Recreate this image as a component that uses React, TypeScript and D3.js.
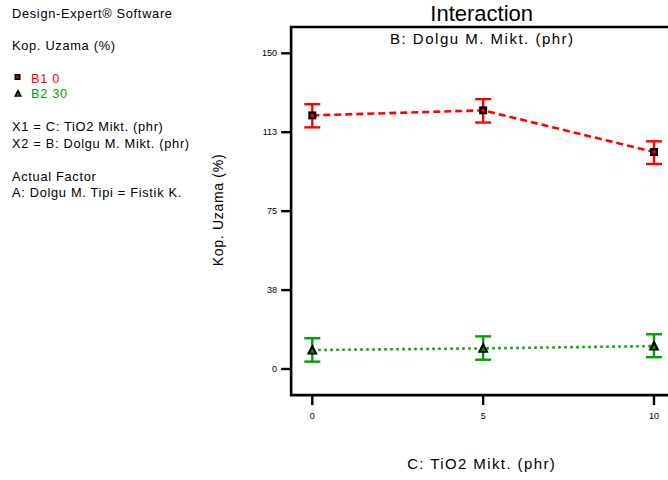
import React from "react";
import * as d3 from "d3";

const levels = [0, 5, 10];
const b1Mean = [120.5, 122.9, 103.1];
const b1Low = [114.8, 117.1, 97.4];
const b1High = [125.8, 128.2, 108.2];
const b2Mean = [9.0, 9.8, 10.9];
const b2Low = [3.5, 4.4, 5.6];
const b2High = [14.6, 15.5, 16.5];
const yTicks = [0, 37.5, 75, 112.5, 150];
const yTickLabels = ["0", "38", "75", "113", "150"];
const xTicks = [0, 5, 10];
const xTickLabels = ["0", "5", "10"];

const FONT = "'Liberation Sans', Arial, sans-serif";
const RED = "#ff0000";
const GREEN = "#00a000";

export default function App() {
  const x = d3.scaleLinear().domain([0, 10]).range([312.3, 654]);
  const y = d3.scaleLinear().domain([0, 150]).range([369, 53.3]);
  const left = x(-0.62);
  const top = y(162.5);
  const bottom = y(-12.4);
  const right = 700;

  const line = d3
    .line<number>()
    .x((_, i) => x(levels[i]))
    .y((d) => y(d));

  const errBars = (lo: number[], hi: number[], color: string) =>
    levels.map((lv, i) => {
      const cx = x(lv);
      return (
        <g key={"e" + color + i} stroke={color} strokeWidth={2.4}>
          <line x1={cx} x2={cx} y1={y(lo[i])} y2={y(hi[i])} />
          <line x1={cx - 8} x2={cx + 8} y1={y(lo[i])} y2={y(lo[i])} />
          <line x1={cx - 8} x2={cx + 8} y1={y(hi[i])} y2={y(hi[i])} />
        </g>
      );
    });

  const square = (cx: number, cy: number, s: number, key: string) => (
    <g key={key}>
      <rect x={cx - s / 2} y={cy - s / 2} width={s} height={s} fill="#000" />
      <rect x={cx - s / 5} y={cy - s / 5} width={(s * 2) / 5} height={(s * 2) / 5} fill={RED} />
    </g>
  );
  const triangle = (cx: number, cy: number, s: number, key: string) => (
    <g key={key}>
      <path
        d={`M${cx},${cy - s * 0.55} L${cx + s / 2},${cy + s * 0.4} L${cx - s / 2},${cy + s * 0.4} Z`}
        fill="#000"
      />
      <path
        d={`M${cx},${cy - s * 0.1} L${cx + s / 5},${cy + s * 0.25} L${cx - s / 5},${cy + s * 0.25} Z`}
        fill={GREEN}
      />
    </g>
  );

  const leftText = { fontFamily: FONT, fontSize: 12.8, letterSpacing: 0.7 } as const;

  return (
    <svg
      width={668}
      height={480}
      style={{ position: "absolute", left: 0, top: 0, background: "#fff" }}
    >
      <rect x={0} y={0} width={668} height={480} fill="#fff" />
      {/* Left info panel */}
      <g {...leftText} fill="#000">
        <text x={12} y={18}>Design-Expert® Software</text>
        <text x={12} y={50}>Kop. Uzama (%)</text>
        <text x={31} y={82.5} fill={RED}>B1 0</text>
        <text x={31} y={97.5} fill={GREEN}>B2 30</text>
        <text x={12} y={131}>X1 = C: TiO2 Mikt. (phr)</text>
        <text x={12} y={148}>X2 = B: Dolgu M. Mikt. (phr)</text>
        <text x={12} y={181}>Actual Factor</text>
        <text x={12} y={197}>A: Dolgu M. Tipi = Fistik K.</text>
      </g>
      {square(17.5, 77, 6, "lsq")}
      {triangle(18, 93.5, 8, "ltr")}

      {/* Title */}
      <text x={481.7} y={21} textAnchor="middle" fontFamily={FONT} fontSize={22}>
        Interaction
      </text>
      <text
        x={482.3}
        y={43.7}
        textAnchor="middle"
        fontFamily={FONT}
        fontSize={15}
        letterSpacing={1.5}
      >
        B: Dolgu M. Mikt. (phr)
      </text>

      {/* Axes box */}
      <path
        d={`M${right},${top} L${left},${top} L${left},${bottom} L${right},${bottom}`}
        fill="none"
        stroke="#000"
        strokeWidth={2.6}
      />
      {yTicks.map((t, i) => (
        <g key={"yt" + i}>
          <line x1={left - 10} x2={left} y1={y(t)} y2={y(t)} stroke="#000" strokeWidth={2.4} />
          <text
            x={left - 14}
            y={y(t) + 3}
            textAnchor="end"
            fontFamily={FONT}
            fontSize={9}
          >
            {yTickLabels[i]}
          </text>
        </g>
      ))}
      {xTicks.map((t, i) => (
        <g key={"xt" + i}>
          <line x1={x(t)} x2={x(t)} y1={bottom} y2={bottom + 10} stroke="#000" strokeWidth={2.4} />
          <text x={x(t)} y={419} textAnchor="middle" fontFamily={FONT} fontSize={9}>
            {xTickLabels[i]}
          </text>
        </g>
      ))}

      {/* Axis labels */}
      <text
        x={481.7}
        y={469}
        textAnchor="middle"
        fontFamily={FONT}
        fontSize={15}
        letterSpacing={1.4}
      >
        C: TiO2 Mikt. (phr)
      </text>
      <text
        transform={`translate(223,210) rotate(-90)`}
        textAnchor="middle"
        fontFamily={FONT}
        fontSize={14}
        letterSpacing={0.7}
      >
        Kop. Uzama (%)
      </text>

      {/* Series lines */}
      <path
        d={line(b1Mean) || ""}
        fill="none"
        stroke={RED}
        strokeWidth={2.6}
        strokeDasharray="7,4"
      />
      <path
        d={line(b2Mean) || ""}
        fill="none"
        stroke={GREEN}
        strokeWidth={2.6}
        strokeDasharray="2.5,3.5"
      />
      {errBars(b1Low, b1High, RED)}
      {errBars(b2Low, b2High, GREEN)}
      {levels.map((lv, i) => square(x(lv), y(b1Mean[i]), 8, "sq" + i))}
      {levels.map((lv, i) => triangle(x(lv), y(b2Mean[i]), 11, "tr" + i))}
    </svg>
  );
}
